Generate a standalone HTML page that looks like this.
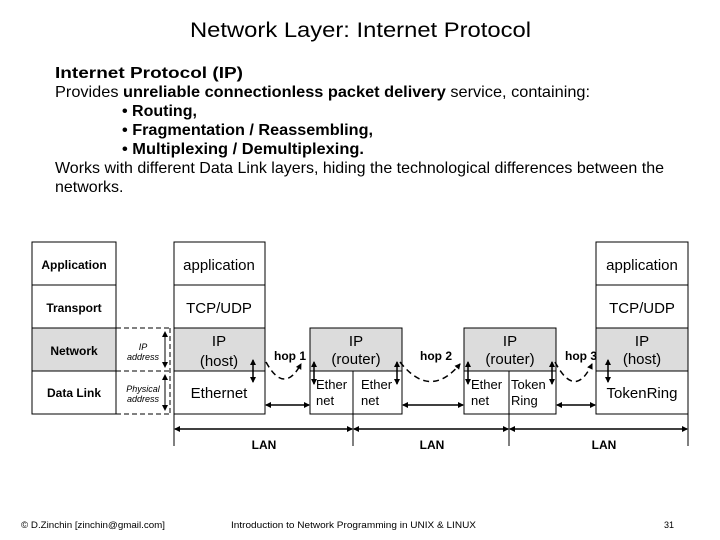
<!DOCTYPE html>
<html><head><meta charset="utf-8"><style>
body{margin:0;background:#fff}
svg{display:block;font-family:"Liberation Sans",Arial,sans-serif}
</style></head><body>
<svg width="720" height="540" viewBox="0 0 720 540" xmlns="http://www.w3.org/2000/svg">
<defs>
<marker id="s" markerWidth="6" markerHeight="6" refX="5" refY="3" orient="auto-start-reverse" markerUnits="userSpaceOnUse"><path d="M0,0 L6,3 L0,6 z" fill="#000"/></marker>
</defs>
<text x="190" y="37" font-size="21" textLength="341" lengthAdjust="spacingAndGlyphs">Network Layer: Internet Protocol</text>
<g font-size="16">
<text x="55" y="78" font-weight="bold" textLength="188" lengthAdjust="spacingAndGlyphs">Internet Protocol (IP)</text>
<text x="55" y="97" textLength="535" lengthAdjust="spacingAndGlyphs">Provides <tspan font-weight="bold">unreliable connectionless packet delivery</tspan> service, containing:</text>
<text x="122" y="116" font-weight="bold">• Routing,</text>
<text x="122" y="135" font-weight="bold" textLength="251" lengthAdjust="spacingAndGlyphs">• Fragmentation / Reassembling,</text>
<text x="122" y="154" font-weight="bold" textLength="242" lengthAdjust="spacingAndGlyphs">• Multiplexing / Demultiplexing.</text>
<text x="55" y="173" textLength="609" lengthAdjust="spacingAndGlyphs">Works with different Data Link layers, hiding the technological differences between the</text>
<text x="55" y="192">networks.</text>
</g>
<!-- left table -->
<rect x="32" y="328" width="84" height="43" fill="#dcdcdc"/>
<rect x="32" y="242" width="84" height="172" fill="none" stroke="#000"/>
<g stroke="#000"><line x1="32" y1="285" x2="116" y2="285"/><line x1="32" y1="328" x2="116" y2="328"/><line x1="32" y1="371" x2="116" y2="371"/></g>
<g font-size="12" font-weight="bold" text-anchor="middle">
<text x="74" y="269">Application</text><text x="74" y="312">Transport</text><text x="74" y="355">Network</text><text x="74" y="397">Data Link</text>
</g>
<g stroke="#000" stroke-dasharray="5,3" fill="none"><path d="M116,328 H170 M116,371 H170 M116,414 H170 M170,328 V414"/></g>
<g font-size="9" font-style="italic" text-anchor="middle"><text x="143" y="350">IP</text><text x="143" y="360">address</text><text x="143" y="392">Physical</text><text x="143" y="402">address</text></g>
<line x1="165" y1="332" x2="165" y2="367" stroke="#000" marker-start="url(#s)" marker-end="url(#s)"/>
<line x1="165" y1="375" x2="165" y2="410" stroke="#000" marker-start="url(#s)" marker-end="url(#s)"/>
<!-- host1 -->
<rect x="174" y="328" width="91" height="43" fill="#dcdcdc"/>
<rect x="174" y="242" width="91" height="172" fill="none" stroke="#000"/>
<g stroke="#000"><line x1="174" y1="285" x2="265" y2="285"/><line x1="174" y1="328" x2="265" y2="328"/><line x1="174" y1="371" x2="265" y2="371"/></g>
<g font-size="15" text-anchor="middle"><text x="219" y="270">application</text><text x="219" y="313">TCP/UDP</text><text x="219" y="346">IP</text><text x="219" y="366">(host)</text><text x="219" y="398">Ethernet</text></g>
<!-- router1 -->
<rect x="310" y="328" width="92" height="43" fill="#dcdcdc"/>
<rect x="310" y="328" width="92" height="86" fill="none" stroke="#000"/>
<line x1="310" y1="371" x2="402" y2="371" stroke="#000"/><line x1="353" y1="371" x2="353" y2="414" stroke="#000"/>
<g font-size="15" text-anchor="middle"><text x="356" y="346">IP</text><text x="356" y="364">(router)</text></g>
<g font-size="13"><text x="316" y="389">Ether</text><text x="316" y="405">net</text><text x="361" y="389">Ether</text><text x="361" y="405">net</text></g>
<!-- router2 -->
<rect x="464" y="328" width="92" height="43" fill="#dcdcdc"/>
<rect x="464" y="328" width="92" height="86" fill="none" stroke="#000"/>
<line x1="464" y1="371" x2="556" y2="371" stroke="#000"/><line x1="509" y1="371" x2="509" y2="414" stroke="#000"/>
<g font-size="15" text-anchor="middle"><text x="510" y="346">IP</text><text x="510" y="364">(router)</text></g>
<g font-size="13"><text x="471" y="389">Ether</text><text x="471" y="405">net</text><text x="511" y="389">Token</text><text x="511" y="405">Ring</text></g>
<!-- host2 -->
<rect x="596" y="328" width="92" height="43" fill="#dcdcdc"/>
<rect x="596" y="242" width="92" height="172" fill="none" stroke="#000"/>
<g stroke="#000"><line x1="596" y1="285" x2="688" y2="285"/><line x1="596" y1="328" x2="688" y2="328"/><line x1="596" y1="371" x2="688" y2="371"/></g>
<g font-size="15" text-anchor="middle"><text x="642" y="270">application</text><text x="642" y="313">TCP/UDP</text><text x="642" y="346">IP</text><text x="642" y="364">(host)</text><text x="642" y="398">TokenRing</text></g>
<!-- vertical arrows -->
<g stroke="#000" stroke-width="1.5">
<line x1="253" y1="360" x2="253" y2="382" marker-start="url(#s)" marker-end="url(#s)"/>
<line x1="314" y1="362" x2="314" y2="384" marker-start="url(#s)" marker-end="url(#s)"/>
<line x1="397" y1="362" x2="397" y2="384" marker-start="url(#s)" marker-end="url(#s)"/>
<line x1="468" y1="362" x2="468" y2="384" marker-start="url(#s)" marker-end="url(#s)"/>
<line x1="552" y1="362" x2="552" y2="384" marker-start="url(#s)" marker-end="url(#s)"/>
<line x1="608" y1="360" x2="608" y2="382" marker-start="url(#s)" marker-end="url(#s)"/>
</g>
<!-- hops -->
<g stroke="#000" stroke-width="1.5" stroke-dasharray="6,4" fill="none">
<path d="M266,362 Q284,395 301,364" marker-end="url(#s)"/>
<path d="M400,362 Q430,400 460,364" marker-end="url(#s)"/>
<path d="M555,362 Q575,400 592,364" marker-end="url(#s)"/>
</g>
<g font-size="12" font-weight="bold"><text x="274" y="360">hop 1</text><text x="420" y="360">hop 2</text><text x="565" y="360">hop 3</text></g>
<!-- horizontal arrows -->
<g stroke="#000" stroke-width="1.5">
<line x1="266" y1="405" x2="309" y2="405" marker-start="url(#s)" marker-end="url(#s)"/>
<line x1="403" y1="405" x2="463" y2="405" marker-start="url(#s)" marker-end="url(#s)"/>
<line x1="557" y1="405" x2="595" y2="405" marker-start="url(#s)" marker-end="url(#s)"/>
<line x1="175" y1="429" x2="352" y2="429" marker-start="url(#s)" marker-end="url(#s)"/>
<line x1="354" y1="429" x2="508" y2="429" marker-start="url(#s)" marker-end="url(#s)"/>
<line x1="510" y1="429" x2="687" y2="429" marker-start="url(#s)" marker-end="url(#s)"/>
</g>
<g stroke="#000"><line x1="174" y1="414" x2="174" y2="446"/><line x1="353" y1="414" x2="353" y2="446"/><line x1="509" y1="414" x2="509" y2="446"/><line x1="688" y1="414" x2="688" y2="446"/></g>
<g font-size="12" font-weight="bold" text-anchor="middle"><text x="264" y="449">LAN</text><text x="432" y="449">LAN</text><text x="604" y="449">LAN</text></g>
<g font-size="9"><text x="21" y="528" textLength="144" lengthAdjust="spacingAndGlyphs">© D.Zinchin [zinchin@gmail.com]</text><text x="231" y="528" textLength="245" lengthAdjust="spacingAndGlyphs">Introduction to Network Programming in UNIX &amp; LINUX</text><text x="664" y="528">31</text></g>
</svg>
</body></html>
